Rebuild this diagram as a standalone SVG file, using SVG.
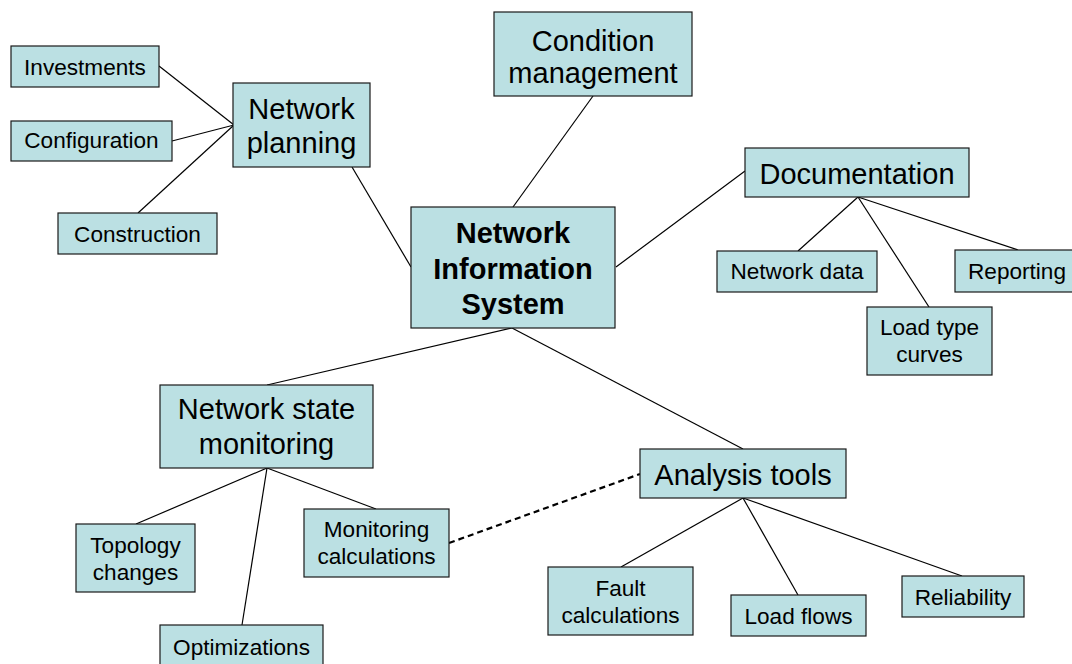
<svg xmlns="http://www.w3.org/2000/svg" width="1072" height="664" viewBox="0 0 1072 664">
  <style>
    .box { fill: #bbe0e3; stroke: #1a1a1a; stroke-width: 1.2; }
    .link { stroke: #000; stroke-width: 1.2; fill: none; }
    .dash { stroke: #000; stroke-width: 2.2; stroke-dasharray: 6 4; fill: none; }
    text { font-family: "Liberation Sans", Arial, sans-serif; fill: #000; text-anchor: middle; }
    .s { font-size: 22.6px; }
    .l { font-size: 29px; }
    .b { font-size: 29px; font-weight: bold; }
  </style>
  <rect width="1072" height="664" fill="#fff"/>

  <g id="connectors">
    <line class="link" x1="159" y1="66" x2="234" y2="125"/>
    <line class="link" x1="172" y1="141" x2="234" y2="125"/>
    <line class="link" x1="138" y1="213" x2="234" y2="125"/>
    <line class="link" x1="352" y1="167" x2="411" y2="267"/>
    <line class="link" x1="593" y1="96" x2="513" y2="207"/>
    <line class="link" x1="616" y1="267" x2="745" y2="171"/>
    <line class="link" x1="858" y1="197" x2="798" y2="251"/>
    <line class="link" x1="858" y1="197" x2="929" y2="307"/>
    <line class="link" x1="858" y1="197" x2="1018" y2="250"/>
    <line class="link" x1="512" y1="328" x2="267" y2="385"/>
    <line class="link" x1="512" y1="328" x2="743" y2="449"/>
    <line class="link" x1="267" y1="468" x2="136" y2="524"/>
    <line class="link" x1="267" y1="468" x2="242" y2="625"/>
    <line class="link" x1="267" y1="468" x2="376" y2="509"/>
    <line class="link" x1="743" y1="498" x2="621" y2="567"/>
    <line class="link" x1="743" y1="498" x2="798" y2="595"/>
    <line class="link" x1="743" y1="498" x2="962" y2="576"/>
    <line class="dash" x1="449" y1="543" x2="640" y2="474"/>
  </g>

  <g id="investments">
    <rect class="box" x="11" y="46" width="148" height="41"/>
    <text class="s" x="85" y="75">Investments</text>
  </g>
  <g id="configuration">
    <rect class="box" x="11" y="121" width="161" height="40"/>
    <text class="s" x="91.5" y="148">Configuration</text>
  </g>
  <g id="construction">
    <rect class="box" x="58" y="213" width="159" height="41"/>
    <text class="s" x="137.5" y="242">Construction</text>
  </g>
  <g id="network-planning">
    <rect class="box" x="233" y="83" width="137" height="84"/>
    <text class="l" x="301.5" y="119">Network</text>
    <text class="l" x="301.5" y="153">planning</text>
  </g>
  <g id="condition-management">
    <rect class="box" x="494" y="12" width="198" height="84"/>
    <text class="l" x="593" y="51">Condition</text>
    <text class="l" x="593" y="83">management</text>
  </g>
  <g id="network-information-system">
    <rect class="box" x="411" y="207" width="204" height="121"/>
    <text class="b" x="513" y="243">Network</text>
    <text class="b" x="513" y="279">Information</text>
    <text class="b" x="513" y="314">System</text>
  </g>
  <g id="documentation">
    <rect class="box" x="745" y="148" width="224" height="49"/>
    <text class="l" x="857" y="184">Documentation</text>
  </g>
  <g id="network-data">
    <rect class="box" x="717" y="251" width="160" height="41"/>
    <text class="s" x="797" y="279">Network data</text>
  </g>
  <g id="reporting">
    <rect class="box" x="955" y="250" width="130" height="42"/>
    <text class="s" x="1017" y="279">Reporting</text>
  </g>
  <g id="load-type-curves">
    <rect class="box" x="867" y="307" width="125" height="68"/>
    <text class="s" x="929.5" y="335">Load type</text>
    <text class="s" x="929.5" y="362">curves</text>
  </g>
  <g id="network-state-monitoring">
    <rect class="box" x="160" y="385" width="213" height="83"/>
    <text class="l" x="266.5" y="419">Network state</text>
    <text class="l" x="266.5" y="454">monitoring</text>
  </g>
  <g id="topology-changes">
    <rect class="box" x="76" y="524" width="119" height="68"/>
    <text class="s" x="135.5" y="553">Topology</text>
    <text class="s" x="135.5" y="580">changes</text>
  </g>
  <g id="monitoring-calculations">
    <rect class="box" x="304" y="509" width="145" height="68"/>
    <text class="s" x="376.5" y="537">Monitoring</text>
    <text class="s" x="376.5" y="564">calculations</text>
  </g>
  <g id="optimizations">
    <rect class="box" x="160" y="625" width="163" height="50"/>
    <text class="s" x="241.5" y="655">Optimizations</text>
  </g>
  <g id="analysis-tools">
    <rect class="box" x="640" y="449" width="206" height="49"/>
    <text class="l" x="743" y="485">Analysis tools</text>
  </g>
  <g id="fault-calculations">
    <rect class="box" x="548" y="567" width="145" height="68"/>
    <text class="s" x="620.5" y="596">Fault</text>
    <text class="s" x="620.5" y="623">calculations</text>
  </g>
  <g id="load-flows">
    <rect class="box" x="731" y="595" width="135" height="41"/>
    <text class="s" x="798.5" y="624">Load flows</text>
  </g>
  <g id="reliability">
    <rect class="box" x="902" y="576" width="122" height="41"/>
    <text class="s" x="963" y="605">Reliability</text>
  </g>
</svg>
